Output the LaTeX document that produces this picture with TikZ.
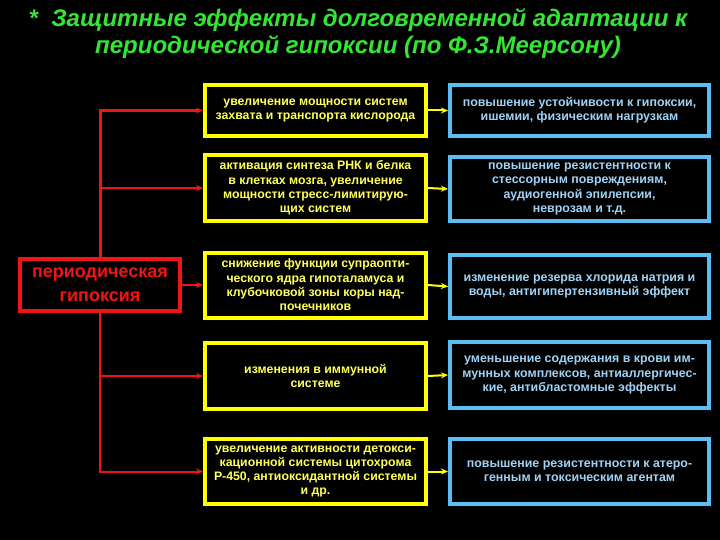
\documentclass[tikz,border=0pt]{standalone}
\usepackage{fontspec}
\setmainfont{Liberation Sans}
\usetikzlibrary{arrows.meta}
\definecolor{ttlgreen}{RGB}{51,230,51}
\definecolor{hypred}{RGB}{240,20,20}
\definecolor{yelbox}{RGB}{255,255,0}
\definecolor{yeltext}{RGB}{255,255,90}
\definecolor{skybox}{RGB}{90,190,245}
\definecolor{skytext}{RGB}{160,210,245}
\begin{document}
\begin{tikzpicture}[x=1pt,y=-1pt,>={Stealth[length=7pt,width=6pt]},
  cause/.style={draw=yelbox,line width=4pt,fill=black,text=yeltext,minimum width=221pt,
    font=\fontsize{12.3}{14.3}\selectfont\bfseries,align=center,inner sep=0pt},
  effect/.style={draw=skybox,line width=4pt,fill=black,text=skytext,minimum width=259pt,
    font=\fontsize{12.4}{14.3}\selectfont\bfseries,align=center,inner sep=0pt},
  trunk/.style={draw=hypred,line width=3pt},
  branch/.style={draw=hypred,line width=2pt,->},
  link/.style={draw=yelbox,line width=2pt,->}]
\fill[black](0,0)rectangle(720,540);
\useasboundingbox(0,0)rectangle(720,540);
\node[text=ttlgreen,font=\fontsize{24}{27}\selectfont\bfseries\itshape,align=center](title)at(358,34)
  {*\ \ Защитные эффекты долговременной адаптации к\\периодической гипоксии (по Ф.З.Меерсону)};
\node[draw=hypred,line width=4pt,fill=black,text=hypred,minimum width=160pt,minimum height=52pt,
  font=\fontsize{18}{24}\selectfont\bfseries,align=center,inner sep=0pt](gip)at(100,285){периодическая\\гипоксия};
% left column
\node[cause,minimum height=51pt](y1)at(315.5,110.5){увеличение мощности систем\\захвата и транспорта кислорода};
\node[cause,minimum height=66pt](y2)at(315.5,188){активация синтеза РНК и белка\\в клетках мозга, увеличение\\мощности стресс-лимитирую-\\щих систем};
\node[cause,minimum height=65pt](y3)at(315.5,285){снижение функции супраопти-\\ческого ядра гипоталамуса и\\клубочковой зоны коры над-\\почечников};
\node[cause,minimum height=66pt](y4)at(315.5,376){изменения в иммунной\\системе};
\node[cause,minimum height=65pt](y5)at(315.5,471.5){увеличение активности детокси-\\кационной системы цитохрома\\Р-450, антиоксидантной системы\\и др.};
% right column
\node[effect,minimum height=51pt](b1)at(579.5,110.5){повышение устойчивости к гипоксии,\\ишемии, физическим нагрузкам};
\node[effect,minimum height=64pt](b2)at(579.5,189){повышение резистентности к\\стессорным повреждениям,\\аудиогенной эпилепсии,\\неврозам и т.д.};
\node[effect,minimum height=63pt](b3)at(579.5,286.5){изменение резерва хлорида натрия и\\воды, антигипертензивный эффект};
\node[effect,minimum height=66pt](b4)at(579.5,375){уменьшение содержания в крови им-\\мунных комплексов, антиаллергичес-\\кие, антибластомные эффекты};
\node[effect,minimum height=65pt](b5)at(579.5,471.5){повышение резистентности к атеро-\\генным и токсическим агентам};
% connectors
\draw[trunk,->](gip.north)|-(y1.west);
\draw[branch](gip.north|-y2.west)--(y2.west);
\draw[branch](gip.east)--(y3.west);
\draw[branch](gip.south)|-(y5.west);
\draw[branch](gip.south|-y4.west)--(y4.west);
\foreach \i in {1,...,5}
  \draw[link](y\i.east)--(b\i.west);
\end{tikzpicture}
\end{document}
